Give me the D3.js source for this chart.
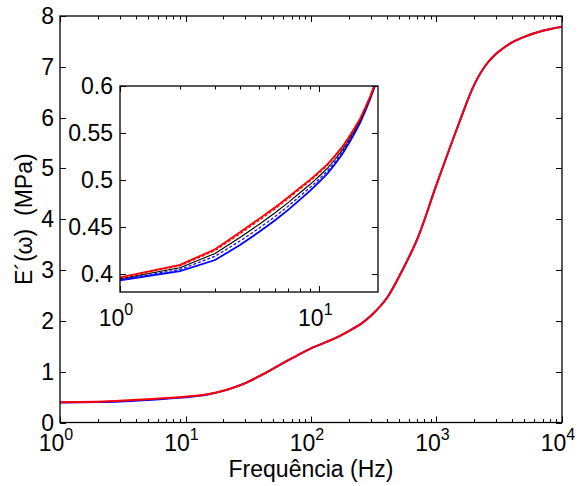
<!DOCTYPE html>
<html>
<head>
<meta charset="utf-8">
<script src="https://cdn.jsdelivr.net/npm/d3@7"></script>
<style>
  body { margin: 0; background: #fff; }
  text { font-family: "Liberation Sans", Arial, sans-serif; fill: #000; }
</style>
</head>
<body>
<div class="chart"></div>
<script>
// Storage modulus E'(w) vs frequency, with zoomed inset for 1-20 Hz

// main curve (red drawn over blue)
var mainFreq = [1, 2, 3, 5, 7, 10, 15, 20, 25, 30, 40, 50, 70, 100, 150, 200, 250, 300, 400, 500, 700, 1000, 1500, 2000, 2500, 3000, 4000, 5000, 7000, 10000];
var mainRed = [0.397, 0.410, 0.427, 0.459, 0.482, 0.509, 0.558, 0.625, 0.70, 0.775, 0.93, 1.06, 1.26, 1.46, 1.64, 1.80, 1.94, 2.10, 2.44, 2.86, 3.60, 4.68, 5.87, 6.65, 7.05, 7.26, 7.48, 7.59, 7.71, 7.79];
var mainBlue = [0.394, 0.403, 0.415, 0.445, 0.469, 0.498, 0.552, 0.622, 0.70, 0.775, 0.93, 1.06, 1.26, 1.46, 1.64, 1.80, 1.94, 2.10, 2.44, 2.86, 3.60, 4.68, 5.87, 6.65, 7.05, 7.26, 7.48, 7.59, 7.71, 7.79];

// inset curves
var insetFreq = [1, 2, 3, 4, 5, 6, 7, 8, 9, 10, 11, 12, 13, 14, 15, 16, 17, 18, 19, 20];
var insetRed = [0.3965, 0.4098, 0.4265, 0.4445, 0.4590, 0.4710, 0.4820, 0.4920, 0.5005, 0.5090, 0.5170, 0.5260, 0.5350, 0.5450, 0.5550, 0.5650, 0.5770, 0.5890, 0.6020, 0.6160];
var insetRedDash = [0.3960, 0.4088, 0.4250, 0.4428, 0.4572, 0.4693, 0.4803, 0.4904, 0.4990, 0.5076, 0.5157, 0.5248, 0.5339, 0.5441, 0.5542, 0.5644, 0.5765, 0.5886, 0.6017, 0.6158];
var insetBlack = [0.3950, 0.4067, 0.4220, 0.4390, 0.4530, 0.4652, 0.4763, 0.4865, 0.4955, 0.5043, 0.5127, 0.5221, 0.5315, 0.5420, 0.5525, 0.5630, 0.5754, 0.5878, 0.6011, 0.6154];
var insetBlueDash = [0.3943, 0.4050, 0.4190, 0.4352, 0.4490, 0.4612, 0.4725, 0.4830, 0.4922, 0.5012, 0.5099, 0.5196, 0.5293, 0.5401, 0.5509, 0.5617, 0.5744, 0.5870, 0.6005, 0.6150];
var insetBlue = [0.3935, 0.4032, 0.4150, 0.4310, 0.4450, 0.4572, 0.4686, 0.4792, 0.4888, 0.4982, 0.5072, 0.5172, 0.5272, 0.5383, 0.5494, 0.5605, 0.5734, 0.5862, 0.5999, 0.6146];

// tick labels
var mainXTicks = [1, 10, 100, 1000, 10000];
var mainXExp = ["0", "1", "2", "3", "4"];
var mainYTicks = [0, 1, 2, 3, 4, 5, 6, 7, 8];
var insetXTicks = [1, 10];
var insetXExp = ["0", "1"];
var insetYTicks = [0.4, 0.45, 0.5, 0.55, 0.6];
var insetYLabels = ["0.4", "0.45", "0.5", "0.55", "0.6"];

var svgWidth = 579;
var svgHeight = 486;

var svg = d3.select(".chart")
    .append("svg")
    .attr("width", svgWidth)
    .attr("height", svgHeight);

// axes boxes
var main = { left: 60, right: 562, top: 16, bottom: 422.5 };
var inset = { left: 120, right: 378, top: 86, bottom: 292 };

var xMain = d3.scaleLog().domain([1, 10000]).range([main.left, main.right]);
var yMain = d3.scaleLinear().domain([0, 8]).range([main.bottom, main.top]);

var xInset = d3.scaleLog().domain([1, 19.7]).range([inset.left, inset.right]);
var yInset = d3.scaleLinear().domain([0.381, 0.6]).range([inset.bottom, inset.top]);

var defs = svg.append("defs");
defs.append("clipPath").attr("id", "clipMain")
    .append("rect")
    .attr("x", main.left).attr("y", main.top)
    .attr("width", main.right - main.left).attr("height", main.bottom - main.top);
defs.append("clipPath").attr("id", "clipInset")
    .append("rect")
    .attr("x", inset.left).attr("y", inset.top)
    .attr("width", inset.right - inset.left).attr("height", inset.bottom - inset.top);

function drawTicks(g, xs, ys, box, minorList, majorList, yList) {
    // x ticks bottom + top
    minorList.forEach(function (v) {
        var isMajor = majorList.indexOf(v) >= 0;
        var len = isMajor ? 6 : 3.5;
        var x = Math.round(xs(v)) + 0.5;
        g.append("line").attr("x1", x).attr("x2", x)
            .attr("y1", box.bottom).attr("y2", box.bottom - len)
            .attr("stroke", "#000").attr("stroke-width", 1);
        g.append("line").attr("x1", x).attr("x2", x)
            .attr("y1", box.top).attr("y2", box.top + len)
            .attr("stroke", "#000").attr("stroke-width", 1);
    });
    // y ticks left + right
    yList.forEach(function (v) {
        var y = Math.round(ys(v)) + 0.5;
        g.append("line").attr("x1", box.left).attr("x2", box.left + 6)
            .attr("y1", y).attr("y2", y)
            .attr("stroke", "#000").attr("stroke-width", 1);
        g.append("line").attr("x1", box.right).attr("x2", box.right - 6)
            .attr("y1", y).attr("y2", y)
            .attr("stroke", "#000").attr("stroke-width", 1);
    });
    g.append("rect")
        .attr("x", box.left).attr("y", box.top)
        .attr("width", box.right - box.left).attr("height", box.bottom - box.top)
        .attr("fill", "none").attr("stroke", "#000").attr("stroke-width", 1.3);
}

// Step 1: main curves
var mainLine = function (vals) {
    return d3.line()
        .x(function (d, i) { return xMain(mainFreq[i]); })
        .y(function (d) { return yMain(d); })
        .curve(d3.curveCatmullRom.alpha(0.5))(vals);
};

var mainGroup = svg.append("g").attr("clip-path", "url(#clipMain)");
mainGroup.append("path").attr("d", mainLine(mainBlue))
    .attr("fill", "none").attr("stroke", "#0000ff").attr("stroke-width", 2);
mainGroup.append("path").attr("d", mainLine(mainRed))
    .attr("fill", "none").attr("stroke", "#ff0000").attr("stroke-width", 2);

// Step 2: main ticks and labels
var mainTicksGroup = svg.append("g");
drawTicks(mainTicksGroup, xMain, yMain, main, xMain.ticks(), mainXTicks, mainYTicks);

svg.selectAll(".mainYLabel")
    .data(mainYTicks)
    .enter()
    .append("text")
    .attr("class", "mainYLabel")
    .attr("x", main.left - 6)
    .attr("y", function (d) { return yMain(d) + 8; })
    .attr("text-anchor", "end")
    .attr("font-size", 23)
    .text(function (d) { return d; });

var mainXLabels = svg.selectAll(".mainXLabel")
    .data(mainXTicks)
    .enter()
    .append("text")
    .attr("class", "mainXLabel")
    .attr("x", function (d) { return xMain(d) - 4; })
    .attr("y", 451)
    .attr("text-anchor", "middle")
    .attr("font-size", 23);
mainXLabels.append("tspan").text("10");
mainXLabels.append("tspan")
    .attr("dy", -11)
    .attr("font-size", 16)
    .text(function (d, i) { return mainXExp[i]; });

svg.append("text")
    .attr("x", (main.left + main.right) / 2)
    .attr("y", 477)
    .attr("text-anchor", "middle")
    .attr("font-size", 23)
    .text("Frequência (Hz)");

svg.append("text")
    .attr("transform", "translate(32, " + ((main.top + main.bottom) / 2) + ") rotate(-90)")
    .attr("text-anchor", "middle")
    .attr("font-size", 23)
    .text("E\u00B4(\u03C9)\u00A0\u00A0(MPa)");

// Step 3: inset
svg.append("rect")
    .attr("x", inset.left).attr("y", inset.top)
    .attr("width", inset.right - inset.left).attr("height", inset.bottom - inset.top)
    .attr("fill", "#fff");

var insetLine = d3.line()
    .x(function (d, i) { return xInset(insetFreq[i]); })
    .y(function (d) { return yInset(d); });

var insetGroup = svg.append("g").attr("clip-path", "url(#clipInset)");
insetGroup.append("path").attr("d", insetLine(insetBlue))
    .attr("fill", "none").attr("stroke", "#0000ff").attr("stroke-width", 1.8);
insetGroup.append("path").attr("d", insetLine(insetBlueDash))
    .attr("fill", "none").attr("stroke", "#0000ff").attr("stroke-width", 1.2)
    .attr("stroke-dasharray", "3,2");
insetGroup.append("path").attr("d", insetLine(insetBlack))
    .attr("fill", "none").attr("stroke", "#000").attr("stroke-width", 1.1);
insetGroup.append("path").attr("d", insetLine(insetRedDash))
    .attr("fill", "none").attr("stroke", "#ff0000").attr("stroke-width", 1.2)
    .attr("stroke-dasharray", "3,2");
insetGroup.append("path").attr("d", insetLine(insetRed))
    .attr("fill", "none").attr("stroke", "#ff0000").attr("stroke-width", 1.8);

var insetTicksGroup = svg.append("g");
drawTicks(insetTicksGroup, xInset, yInset, inset, xInset.ticks(), insetXTicks, insetYTicks);

svg.selectAll(".insetYLabel")
    .data(insetYTicks)
    .enter()
    .append("text")
    .attr("class", "insetYLabel")
    .attr("x", inset.left - 7)
    .attr("y", function (d) { return yInset(d) + 8; })
    .attr("text-anchor", "end")
    .attr("font-size", 23)
    .text(function (d, i) { return insetYLabels[i]; });

var insetXLabels = svg.selectAll(".insetXLabel")
    .data(insetXTicks)
    .enter()
    .append("text")
    .attr("class", "insetXLabel")
    .attr("x", function (d) { return xInset(d) - 4; })
    .attr("y", 326)
    .attr("text-anchor", "middle")
    .attr("font-size", 23);
insetXLabels.append("tspan").text("10");
insetXLabels.append("tspan")
    .attr("dy", -11)
    .attr("font-size", 16)
    .text(function (d, i) { return insetXExp[i]; });
</script>
</body>
</html>
